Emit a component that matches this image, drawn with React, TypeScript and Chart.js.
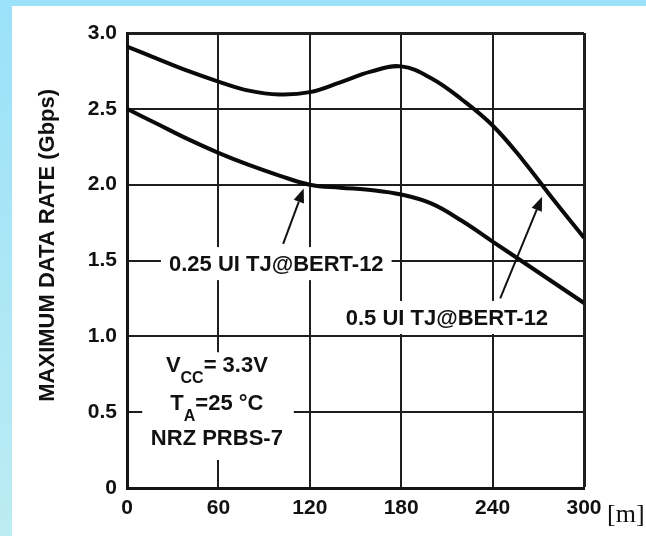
import React, { useEffect, useRef } from 'react';
import { Chart, registerables } from 'chart.js';

Chart.register(...registerables);

// ---- data ----
const distances = [0, 20, 40, 60, 80, 100, 120, 140, 160, 180, 200, 220, 240, 260, 280, 300];
const rate05UI = [2.91, 2.83, 2.75, 2.68, 2.62, 2.595, 2.61, 2.675, 2.745, 2.78, 2.7, 2.56, 2.39, 2.16, 1.9, 1.65];
const rate025UI = [2.5, 2.4, 2.3, 2.21, 2.13, 2.06, 2.0, 1.98, 1.965, 1.935, 1.875, 1.76, 1.625, 1.49, 1.355, 1.22];
const xTicks = [0, 60, 120, 180, 240, 300];
const yTicks = [0, 0.5, 1.0, 1.5, 2.0, 2.5, 3.0];
const yTitle = 'MAXIMUM DATA RATE (Gbps)';
const label025 = '0.25 UI TJ@BERT-12';
const label05 = '0.5 UI TJ@BERT-12';
const unitLabel = '[m]';
const condVcc = ['V', 'CC', '= 3.3V'];
const condTa = ['T', 'A', '=25 °C'];
const condSignal = 'NRZ PRBS-7';

// annotation anchors in data units
const label025Pos = { x: 98, y: 1.43 };
const label05Pos = { x: 210, y: 1.075 };
const arrow025 = { from: { x: 102.5, y: 1.61 }, to: { x: 116, y: 1.975 } };
const arrow05 = { from: { x: 245, y: 1.25 }, to: { x: 272.5, y: 1.92 } };
const condPos = { x: 59, lines: [0.765, 0.514, 0.283] };
const condBox = { x0: 10, x1: 109.5, y0: 0.895, y1: 0.185 };
const titlePos = { x: 48, yValue: 1.6 };

const FONT = '"Liberation Sans", Arial, Helvetica, sans-serif';
const INK = '#111';

function drawArrow(ctx: CanvasRenderingContext2D, x0: number, y0: number, x1: number, y1: number) {
  const ang = Math.atan2(y1 - y0, x1 - x0);
  const headLen = 14;
  const headW = 5.5;
  const bx = x1 - headLen * Math.cos(ang);
  const by = y1 - headLen * Math.sin(ang);
  ctx.beginPath();
  ctx.moveTo(x0, y0);
  ctx.lineTo(bx, by);
  ctx.lineWidth = 2;
  ctx.strokeStyle = INK;
  ctx.stroke();
  ctx.beginPath();
  ctx.moveTo(x1, y1);
  ctx.lineTo(bx + headW * Math.sin(ang), by - headW * Math.cos(ang));
  ctx.lineTo(bx - headW * Math.sin(ang), by + headW * Math.cos(ang));
  ctx.closePath();
  ctx.fillStyle = INK;
  ctx.fill();
}

const annotationPlugin = {
  id: 'annotations',
  beforeDatasetsDraw(chart: any) {
    const { ctx, scales } = chart;
    const sx = scales.x;
    const sy = scales.y;
    const px = (v: number) => sx.getPixelForValue(v);
    const py = (v: number) => sy.getPixelForValue(v);
    ctx.save();
    ctx.textBaseline = 'alphabetic';
    const mainFont = `bold 22px ${FONT}`;
    const subFont = `bold 16px ${FONT}`;

    // y-axis title
    ctx.save();
    ctx.translate(titlePos.x, py(titlePos.yValue));
    ctx.rotate(-Math.PI / 2);
    ctx.font = mainFont;
    ctx.textAlign = 'center';
    ctx.textBaseline = 'middle';
    ctx.fillStyle = INK;
    ctx.fillText(yTitle, 0, 0);
    ctx.restore();

    // boxed labels
    const boxed = (text: string, cx: number, base: number) => {
      ctx.font = mainFont;
      const w = ctx.measureText(text).width;
      ctx.fillStyle = '#fff';
      ctx.fillRect(cx - w / 2 - 8, base - 24, w + 16, 33);
      ctx.fillStyle = INK;
      ctx.textAlign = 'left';
      ctx.fillText(text, cx - w / 2, base);
    };
    boxed(label025, px(label025Pos.x), py(label025Pos.y));
    boxed(label05, px(label05Pos.x), py(label05Pos.y));

    // conditions block
    ctx.fillStyle = '#fff';
    ctx.fillRect(px(condBox.x0), py(condBox.y0), px(condBox.x1) - px(condBox.x0), py(condBox.y1) - py(condBox.y0));
    const cx = px(condPos.x);
    const subLine = (parts: string[], base: number) => {
      ctx.font = mainFont;
      const w0 = ctx.measureText(parts[0]).width;
      const w2 = ctx.measureText(parts[2]).width;
      ctx.font = subFont;
      const w1 = ctx.measureText(parts[1]).width;
      let x = cx - (w0 + w1 + w2) / 2;
      ctx.fillStyle = INK;
      ctx.textAlign = 'left';
      ctx.font = mainFont;
      ctx.fillText(parts[0], x, base);
      x += w0;
      ctx.font = subFont;
      ctx.fillText(parts[1], x, base + 11);
      x += w1;
      ctx.font = mainFont;
      ctx.fillText(parts[2], x, base);
    };
    subLine(condVcc, py(condPos.lines[0]));
    subLine(condTa, py(condPos.lines[1]));
    ctx.font = mainFont;
    ctx.textAlign = 'center';
    ctx.fillText(condSignal, cx, py(condPos.lines[2]));

    // unit label
    ctx.font = `26px "Liberation Serif", "Times New Roman", serif`;
    ctx.textAlign = 'left';
    ctx.fillText(unitLabel, sx.right + 23, sy.bottom + 34);
    ctx.restore();
  },
  afterDatasetsDraw(chart: any) {
    const { ctx, scales } = chart;
    const sx = scales.x;
    const sy = scales.y;
    ctx.save();
    for (const a of [arrow025, arrow05]) {
      drawArrow(ctx, sx.getPixelForValue(a.from.x), sy.getPixelForValue(a.from.y), sx.getPixelForValue(a.to.x), sy.getPixelForValue(a.to.y));
    }
    ctx.restore();
  },
};

export default function App() {
  const canvasRef = useRef<HTMLCanvasElement | null>(null);

  useEffect(() => {
    const canvas = canvasRef.current;
    if (!canvas) return;
    const lineStyle = {
      borderColor: '#0a0a0a',
      borderWidth: 4,
      pointRadius: 0,
      tension: 0.4,
      fill: false,
    };
    const chart = new Chart(canvas, {
      type: 'line',
      data: {
        datasets: [
          { label: label05, data: distances.map((d, i) => ({ x: d, y: rate05UI[i] })), ...lineStyle },
          { label: label025, data: distances.map((d, i) => ({ x: d, y: rate025UI[i] })), ...lineStyle },
        ],
      },
      options: {
        responsive: false,
        animation: false,
        devicePixelRatio: 1,
        layout: { padding: { left: 0, top: 33, right: 62, bottom: 0 } },
        plugins: { legend: { display: false }, tooltip: { enabled: false } },
        scales: {
          x: {
            type: 'linear',
            min: 0,
            max: 300,
            afterBuildTicks: (s: any) => {
              s.ticks = xTicks.map((v) => ({ value: v }));
            },
            afterFit: (s: any) => {
              s.height = 48;
            },
            ticks: {
              autoSkip: false,
              maxRotation: 0,
              padding: 8,
              color: INK,
              font: { family: FONT, size: 21, weight: 'bold' },
              callback: (v: any) => String(v),
            },
            grid: {
              color: '#1e1e1e',
              lineWidth: (c: any) => (c.tick && c.tick.value === 300 ? 3 : 2),
              drawTicks: false,
            },
            border: { display: true, color: '#151515', width: 3 },
          },
          y: {
            type: 'linear',
            min: 0,
            max: 3,
            afterBuildTicks: (s: any) => {
              s.ticks = yTicks.map((v) => ({ value: v }));
            },
            afterFit: (s: any) => {
              s.width = 127;
            },
            ticks: {
              autoSkip: false,
              padding: 10,
              color: INK,
              font: { family: FONT, size: 21, weight: 'bold' },
              callback: (v: any) => (v === 0 ? '0' : Number(v).toFixed(1)),
            },
            grid: {
              color: '#1e1e1e',
              lineWidth: (c: any) => (c.tick && c.tick.value === 3 ? 3 : 2),
              drawTicks: false,
            },
            border: { display: true, color: '#151515', width: 3 },
          },
        },
      },
      plugins: [annotationPlugin],
    } as any);
    return () => chart.destroy();
  }, []);

  return (
    <div
      style={{
        position: 'fixed',
        left: 0,
        top: 0,
        width: 646,
        height: 536,
        background: 'linear-gradient(180deg, #9ae1f9 0%, #bcecf3 100%)',
        overflow: 'hidden',
      }}
    >
      <div style={{ position: 'absolute', left: 12, top: 6, right: 0, bottom: 0, background: '#fff' }} />
      <canvas ref={canvasRef} width={646} height={536} style={{ position: 'absolute', left: 0, top: 0 }} />
    </div>
  );
}
